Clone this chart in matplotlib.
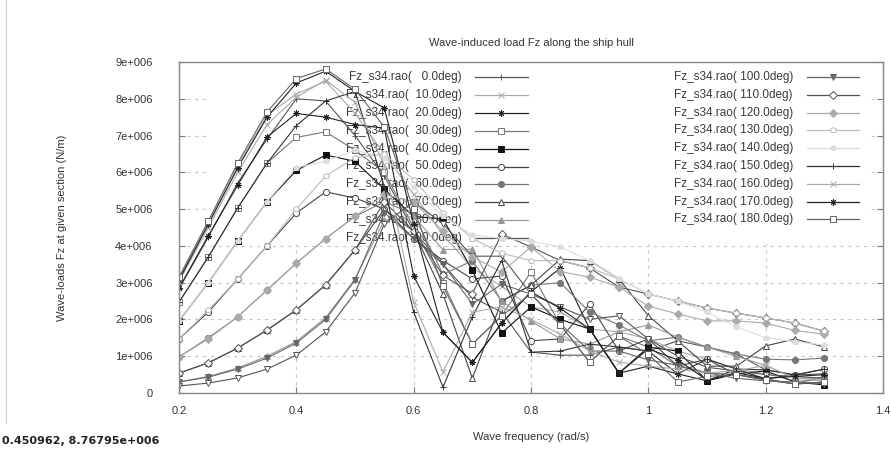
import matplotlib
matplotlib.use("Agg")
import matplotlib.pyplot as plt
from matplotlib.lines import Line2D
from matplotlib.patches import Rectangle
from matplotlib.ticker import FuncFormatter
import numpy as np

plt.rcParams['font.family'] = ['Liberation Sans', 'DejaVu Sans']

# wave frequency (rad/s)
freq = [0.20, 0.25, 0.30, 0.35, 0.40, 0.45, 0.50, 0.55, 0.60, 0.65, 0.70, 0.75,
        0.80, 0.85, 0.90, 0.95, 1.00, 1.05, 1.10, 1.15, 1.20, 1.25, 1.30]

headings = [0, 10, 20, 30, 40, 50, 60, 70, 80, 90,
            100, 110, 120, 130, 140, 150, 160, 170, 180]

# Fz RAO per heading, in 1e6 N/m
fz_000 = [2.83, 4.24, 5.71, 6.90, 8.00, 7.94, 7.00, 5.90, 4.40, 3.50, 2.60, 2.20, 1.11, 1.03, 1.03, 1.25, 1.14, 1.42, 1.25, 1.06, 0.63, 0.49, 0.52]
fz_010 = [3.10, 4.62, 6.18, 7.55, 8.13, 8.48, 7.60, 6.50, 5.40, 4.30, 3.40, 2.90, 2.34, 2.20, 1.74, 1.66, 1.47, 1.14, 0.92, 0.65, 0.52, 0.33, 0.35]
fz_020 = [2.85, 4.28, 5.65, 6.96, 7.60, 7.50, 7.30, 7.20, 3.18, 1.65, 0.83, 1.90, 2.75, 3.40, 1.74, 0.54, 0.73, 0.52, 0.33, 0.65, 0.38, 0.24, 0.30]
fz_030 = [2.47, 3.70, 5.03, 6.25, 6.95, 7.10, 6.60, 6.00, 4.50, 3.00, 1.33, 2.10, 3.29, 1.85, 0.84, 1.55, 1.25, 0.73, 0.55, 0.50, 0.35, 0.25, 0.45]
fz_040 = [1.96, 3.00, 4.13, 5.20, 6.05, 6.47, 6.30, 5.54, 4.80, 4.73, 3.34, 1.63, 2.34, 2.00, 1.74, 0.54, 1.25, 1.14, 0.33, 0.52, 0.60, 0.30, 0.22]
fz_050 = [1.47, 2.20, 3.10, 4.00, 4.89, 5.47, 5.30, 5.00, 4.20, 3.60, 3.10, 3.18, 1.42, 1.47, 2.42, 1.14, 1.47, 0.73, 0.92, 0.50, 0.38, 0.49, 0.65]
fz_060 = [0.98, 1.50, 2.07, 2.80, 3.53, 4.20, 4.80, 5.20, 4.86, 3.23, 3.59, 2.50, 2.93, 3.00, 2.20, 1.85, 1.42, 1.52, 1.25, 1.06, 0.92, 0.90, 0.95]
fz_070 = [0.54, 0.82, 1.22, 1.71, 2.26, 2.94, 3.89, 5.00, 4.40, 2.69, 0.40, 2.50, 2.93, 3.64, 3.60, 3.10, 2.10, 1.42, 0.73, 0.73, 1.28, 1.47, 1.25]
fz_080 = [0.30, 0.45, 0.68, 1.00, 1.40, 2.05, 3.10, 4.70, 4.80, 3.90, 3.91, 2.50, 1.96, 1.47, 1.33, 1.66, 1.85, 1.52, 1.25, 1.00, 0.75, 0.40, 0.40]
fz_090 = [0.19, 0.27, 0.41, 0.65, 1.03, 1.66, 2.72, 4.60, 5.20, 4.60, 3.72, 3.72, 2.69, 2.34, 2.00, 2.10, 1.47, 1.00, 0.70, 0.60, 0.50, 0.45, 0.40]
fz_100 = [0.30, 0.43, 0.65, 0.95, 1.36, 2.00, 3.07, 4.90, 4.20, 3.50, 2.42, 2.96, 2.69, 1.88, 1.14, 1.14, 0.90, 0.75, 0.55, 0.40, 0.33, 0.30, 0.25]
fz_110 = [0.54, 0.82, 1.22, 1.71, 2.26, 2.94, 3.89, 5.20, 4.40, 3.20, 2.70, 4.32, 3.97, 3.60, 3.40, 2.88, 2.69, 2.50, 2.31, 2.17, 2.04, 1.90, 1.68]
fz_120 = [0.98, 1.47, 2.07, 2.80, 3.53, 4.20, 4.80, 5.40, 5.20, 4.40, 3.70, 3.29, 3.97, 3.30, 3.15, 2.88, 2.36, 2.15, 1.96, 1.96, 1.90, 1.70, 1.60]
fz_130 = [1.47, 2.25, 3.10, 4.00, 5.00, 5.90, 6.40, 6.50, 5.80, 4.90, 4.20, 3.80, 3.60, 3.60, 3.40, 3.10, 2.69, 2.50, 2.31, 2.17, 2.04, 1.90, 1.68]
fz_140 = [1.96, 3.00, 4.13, 5.20, 6.13, 6.30, 6.60, 6.40, 5.60, 4.80, 4.30, 4.20, 4.13, 3.97, 3.60, 3.10, 2.69, 2.50, 2.20, 1.80, 1.50, 1.40, 1.30]
fz_150 = [2.47, 3.70, 5.03, 6.25, 7.27, 7.94, 8.20, 5.60, 2.20, 0.16, 2.07, 3.60, 1.11, 1.14, 1.33, 1.25, 1.14, 0.52, 0.92, 0.65, 0.63, 0.49, 0.65]
fz_160 = [3.03, 4.50, 6.00, 7.30, 8.04, 8.51, 7.90, 6.20, 2.47, 0.57, 2.20, 2.34, 2.00, 1.60, 1.14, 0.84, 0.73, 0.65, 0.55, 0.60, 0.75, 0.40, 0.35]
fz_170 = [3.07, 4.59, 6.12, 7.50, 8.43, 8.75, 8.20, 7.75, 4.60, 1.65, 0.83, 1.90, 2.75, 2.30, 1.74, 0.54, 1.20, 0.90, 0.35, 0.55, 0.40, 0.45, 0.50]
fz_180 = [3.15, 4.68, 6.25, 7.64, 8.55, 8.81, 8.26, 7.23, 5.00, 2.90, 1.33, 2.10, 2.69, 1.85, 0.84, 1.55, 1.05, 0.30, 0.45, 0.50, 0.35, 0.25, 0.30]

series = [fz_000, fz_010, fz_020, fz_030, fz_040, fz_050, fz_060, fz_070, fz_080, fz_090,
          fz_100, fz_110, fz_120, fz_130, fz_140, fz_150, fz_160, fz_170, fz_180]

# gnuplot-like point types, grey levels
star = (8, 2, 0)
styles = [
    ('+', '#555555', False), ('x', '#aaaaaa', False), (star, '#222222', False),
    ('s', '#777777', False), ('s', '#111111', True), ('o', '#444444', False),
    ('o', '#777777', True), ('^', '#444444', False), ('^', '#999999', True),
    ('v', '#555555', False), ('v', '#666666', True), ('D', '#555555', False),
    ('D', '#aaaaaa', True), ('p', '#bbbbbb', False), ('p', '#dddddd', True),
    ('+', '#333333', False), ('x', '#aaaaaa', False), (star, '#222222', False),
    ('s', '#666666', False),
]

W, H = 891, 450
fig = plt.figure(figsize=(W / 100, H / 100), dpi=100)
L, R, T, B = 179, 883, 62, 393
ax = fig.add_axes([L / W, 1 - B / H, (R - L) / W, (B - T) / H])


def ax_xy(px, py):
    return (px - L) / (R - L), (B - py) / (B - T)


def mstyle(m, c, filled):
    ms = 3.6 if m in ('D',) else 4.4
    return dict(marker=m, markersize=ms, markeredgecolor=c, markeredgewidth=0.7,
                markerfacecolor=c if filled else 'white')


x = np.array(freq)
for vals, (m, c, filled) in zip(series, styles):
    ax.plot(x, np.array(vals) * 1e6, color=c, lw=0.8, zorder=2, **mstyle(m, c, filled))

ax.set_xlim(0.2, 1.4)
ax.set_ylim(0, 9e6)
ax.set_xticks([0.2, 0.4, 0.6, 0.8, 1.0, 1.2, 1.4])
ax.set_yticks(np.arange(0, 9.5e6, 1e6))
ax.xaxis.set_major_formatter(FuncFormatter(lambda v, p: f"{v:g}"))
ax.yaxis.set_major_formatter(FuncFormatter(lambda v, p: "0" if v == 0 else f"{int(round(v / 1e6))}e+006"))
ax.tick_params(direction='in', length=4, width=0.8, colors='#777777', labelcolor='#333333',
               labelsize=8, top=True, right=True)
ax.tick_params(axis='y', pad=19)
ax.tick_params(axis='x', pad=9)
for sp in ax.spines.values():
    sp.set_color('#888888')
    sp.set_linewidth(1.0)

ax.set_axisbelow(True)
ax.grid(True, color='#c8c8c8', linestyle=(0, (3, 4)), linewidth=0.8)

# key area hides the grid
kx0, ky0 = ax_xy(210, 244)
kx1, _ = ax_xy(870, 244)
ax.add_patch(Rectangle((kx0, ky0), kx1 - kx0, 1 - ky0, transform=ax.transAxes,
                       facecolor='white', edgecolor='none', zorder=0.8))

# key, two columns
for i, (h, (m, c, filled)) in enumerate(zip(headings, styles)):
    if i < 10:
        tx, l1, l2, py = 462, 475, 528, 77 + 17.9 * i
    else:
        tx, l1, l2, py = 793, 807, 859, 77 + 17.8 * (i - 10)
    ax_t, ay = ax_xy(tx, py)
    ax.text(ax_t, ay, f"Fz_s34.rao({h:6.1f}deg)", transform=ax.transAxes, ha='right',
            va='center', fontsize=8.5, color='#3a3a3a', zorder=1.5)
    a1, _ = ax_xy(l1, py)
    a2, _ = ax_xy(l2, py)
    ax.plot([a1, a2], [ay, ay], transform=ax.transAxes, color=c, lw=0.9, zorder=1.6, clip_on=False)
    ax.plot([(a1 + a2) / 2], [ay], transform=ax.transAxes, color=c, lw=0, zorder=1.6,
            clip_on=False, **mstyle(m, c, filled))

fig.text(531 / W, 1 - 43 / H, "Wave-induced load Fz along the ship hull", ha='center', va='center',
         fontsize=8, color='#333333')
fig.text(62 / W, 1 - 228 / H, "Wave-loads Fz at given section (N/m)", ha='center', va='center',
         rotation=90, fontsize=8, color='#333333')
fig.text(531 / W, 1 - 437 / H, "Wave frequency (rad/s)", ha='center', va='center',
         fontsize=8, color='#333333')
fig.text(2 / W, 1 - 441 / H, "0.450962, 8.76795e+006", ha='left', va='center',
         fontsize=8, fontweight='bold', color='#222222', family='DejaVu Sans')
fig.add_artist(Line2D([6 / W, 6 / W], [1, 1 - 423 / H], transform=fig.transFigure,
                      color='#d0d0d0', lw=0.8))

fig.savefig("out.png", dpi=100)
